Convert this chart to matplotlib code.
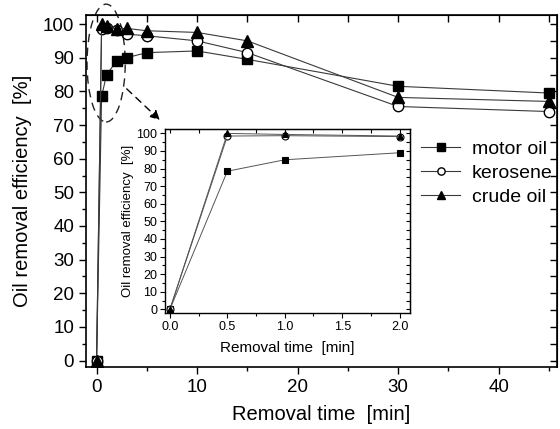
import numpy as np
import matplotlib
matplotlib.use('Agg')
from matplotlib import pyplot as plt
from matplotlib.patches import Ellipse
from matplotlib.ticker import MultipleLocator

plt.rcParams['font.family'] = ['Liberation Sans', 'DejaVu Sans']

# removal time [min]
time = [0, 0.5, 1, 2, 3, 5, 10, 15, 30, 45]
# oil removal efficiency [%]
motor_oil = [0, 78.5, 85, 89, 90, 91.5, 92, 89.5, 81.5, 79.5]
kerosene = [0, 98.5, 98.7, 98.2, 97, 96.5, 95, 91.5, 75.5, 74]
crude_oil = [0, 100, 99.4, 98.5, 98.7, 98, 97.5, 95, 78.2, 77]

series = [('motor oil', motor_oil, 's', 'black'),
          ('kerosene', kerosene, 'o', 'white'),
          ('crude oil', crude_oil, '^', 'black')]
n_inset = 4  # points up to 2 min

fig = plt.figure(figsize=(5.6, 4.29), dpi=100)
ax = fig.add_axes([0.1536, 0.1452, 0.841, 0.820])

for name, vals, mk, fc in series:
    ax.plot(time, vals, color='#3a3a3a', linewidth=0.8, marker=mk,
            markersize=7.5 if mk != '^' else 8.5, markerfacecolor=fc,
            markeredgecolor='black', markeredgewidth=1.0, label=name)

ax.set_xlim(-1.05, 45.8)
ax.set_ylim(-1.8, 102.7)
ax.xaxis.set_major_locator(MultipleLocator(10))
ax.xaxis.set_minor_locator(MultipleLocator(5))
ax.yaxis.set_major_locator(MultipleLocator(10))
ax.yaxis.set_minor_locator(MultipleLocator(5))
ax.tick_params(which='both', direction='out', labelsize=13.5, width=1.0)
ax.tick_params(which='major', length=5)
ax.tick_params(which='minor', length=3)
for s in ax.spines.values():
    s.set_linewidth(1.2)

# mirrored inward ticks on top / right
top = ax.secondary_xaxis('top')
top.xaxis.set_major_locator(MultipleLocator(10))
top.xaxis.set_minor_locator(MultipleLocator(5))
top.tick_params(which='both', direction='in', labeltop=False, length=5, width=1.0)
right = ax.secondary_yaxis('right')
right.yaxis.set_major_locator(MultipleLocator(10))
right.yaxis.set_minor_locator(MultipleLocator(5))
right.tick_params(which='both', direction='in', labelright=False, length=5, width=1.0)

ax.set_xlabel('Removal time  [min]', fontsize=14.5, labelpad=7)
ax.set_ylabel('Oil removal efficiency  [%]', fontsize=14.5, labelpad=8)

ax.legend(loc='upper left', bbox_to_anchor=(0.712, 0.643), frameon=False,
          fontsize=14, handlelength=2.0, handletextpad=0.6, labelspacing=0.33,
          borderpad=0, borderaxespad=0, markerscale=0.7)

# dashed ellipse and arrow pointing to the inset
ell = Ellipse((0.95, 88.4), 3.8, 35, fill=False, linestyle=(0, (6, 4)),
              edgecolor='#222222', linewidth=1.0, clip_on=False)
ax.add_patch(ell)
ax.annotate('', xy=(6.5, 70.9), xytext=(2.8, 81.3),
            arrowprops=dict(arrowstyle='-|>', linestyle=(0, (5, 4)),
                            color='black', linewidth=1.0, mutation_scale=14))

# inset
axi = fig.add_axes([0.2946, 0.2704, 0.4375, 0.4289])
for name, vals, mk, fc in series:
    axi.plot(time[:n_inset], vals[:n_inset], color='#555555', linewidth=0.7,
             marker=mk, markersize=5, markerfacecolor=fc,
             markeredgecolor='black', markeredgewidth=0.8)
axi.set_xlim(-0.043, 2.09)
axi.set_ylim(-2.1, 102.5)
axi.xaxis.set_major_locator(MultipleLocator(0.5))
axi.xaxis.set_minor_locator(MultipleLocator(0.25))
axi.yaxis.set_major_locator(MultipleLocator(10))
axi.yaxis.set_minor_locator(MultipleLocator(5))
axi.xaxis.set_major_formatter(matplotlib.ticker.FormatStrFormatter('%.1f'))
axi.tick_params(which='both', direction='out', labelsize=9, width=0.8, pad=2)
axi.tick_params(which='major', length=3.5)
axi.tick_params(which='minor', length=2)
itop = axi.secondary_xaxis('top')
itop.xaxis.set_major_locator(MultipleLocator(0.5))
itop.xaxis.set_minor_locator(MultipleLocator(0.25))
itop.tick_params(which='both', direction='in', labeltop=False, length=3, width=0.8)
iright = axi.secondary_yaxis('right')
iright.yaxis.set_major_locator(MultipleLocator(10))
iright.yaxis.set_minor_locator(MultipleLocator(5))
iright.tick_params(which='both', direction='in', labelright=False, length=3, width=0.8)
for s in axi.spines.values():
    s.set_linewidth(1.0)
axi.set_xlabel('Removal time  [min]', fontsize=11, labelpad=6)
axi.set_ylabel('Oil removal efficiency  [%]', fontsize=9.5, labelpad=2)

fig.savefig('out.png', dpi=100)
